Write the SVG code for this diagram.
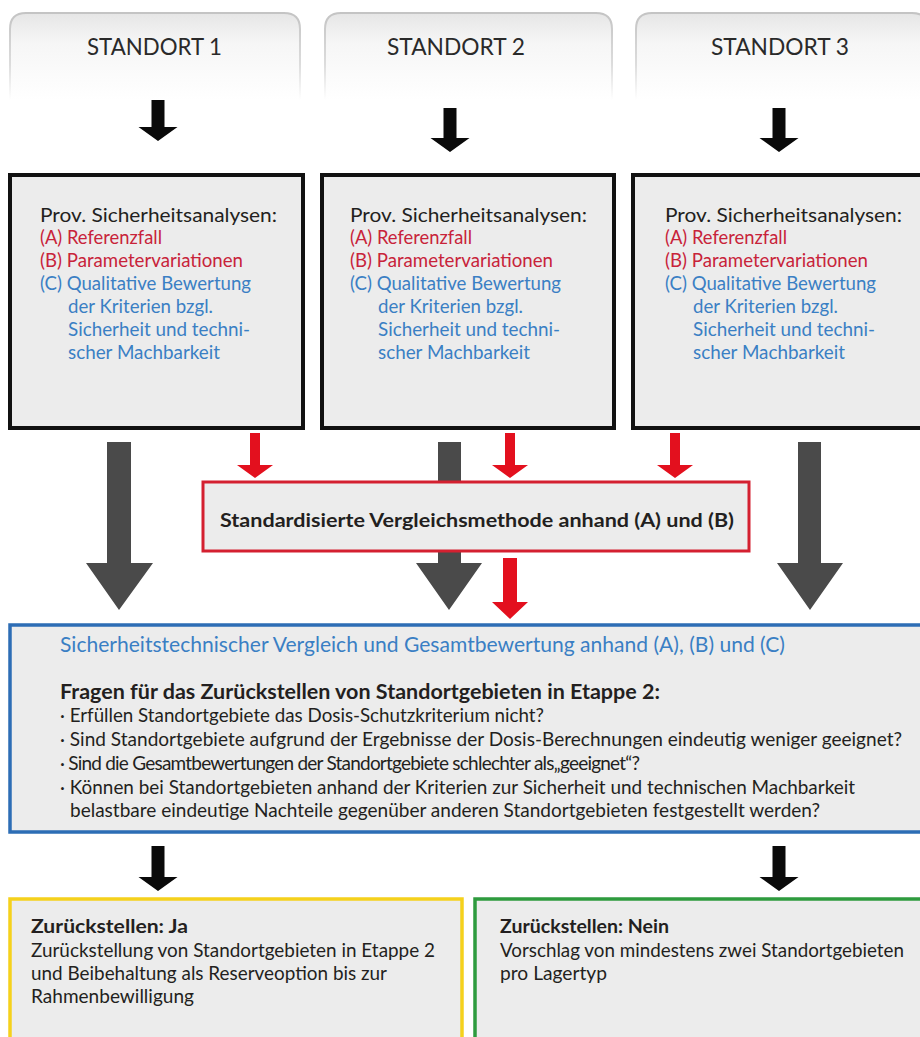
<svg xmlns="http://www.w3.org/2000/svg" width="920" height="1037" viewBox="0 0 920 1037">
<defs>
<linearGradient id="tabFill" x1="0" y1="13" x2="0" y2="100" gradientUnits="userSpaceOnUse">
<stop offset="0" stop-color="#e6e6e6"/>
<stop offset="0.35" stop-color="#f6f6f6"/>
<stop offset="1" stop-color="#ffffff"/>
</linearGradient>
<linearGradient id="tabStroke" x1="0" y1="13" x2="0" y2="100" gradientUnits="userSpaceOnUse">
<stop offset="0" stop-color="#c4c4c4"/>
<stop offset="0.6" stop-color="#dddddd"/>
<stop offset="1" stop-color="#ffffff"/>
</linearGradient>
<style>
.tab{fill:url(#tabFill);stroke:url(#tabStroke);stroke-width:2}
.tabt{font-family:Lato,"Open Sans",sans-serif;font-size:24px;fill:#2a2a2a}
.prov{fill:#ececec;stroke:#111;stroke-width:4}
.t{font-family:Lato,"Open Sans","Liberation Sans",sans-serif;font-size:19.5px;fill:#231f20}
.c{font-family:Lato,"Open Sans",sans-serif;font-size:19px;fill:#231f20}
text.red{fill:#c8233a}
text.blue{fill:#3a7fc4}
.b{font-weight:bold}
.blk{fill:#0a0a0a}
.gry{fill:#4a4a4a}
.rda{fill:#e3101e}
</style>
</defs>
<rect width="920" height="1037" fill="#ffffff"/>

<g id="connectors">
<polygon class="blk" points="151.5,97 164.5,97 164.5,127 177.5,127 158,141 138.5,127 151.5,127"/>
<polygon class="blk" points="443.5,108 456.5,108 456.5,138 469.5,138 450,152 430.5,138 443.5,138"/>
<polygon class="blk" points="772.5,108 785.5,108 785.5,138 798.5,138 779,152 759.5,138 772.5,138"/>
<polygon class="gry" points="107,442 131,442 131,563 153,563 119,610 86,563 107,563"/>
<polygon class="gry" points="438,442 461,442 461,563 482,563 449,610 416,563 438,563"/>
<polygon class="gry" points="798,442 821,442 821,563 843,563 810,610 777,563 798,563"/>
<polygon class="rda" points="250,433 260,433 260,465 273,465 255,478 237,465 250,465"/>
<polygon class="rda" points="505,433 515,433 515,465 528,465 510,478 492,465 505,465"/>
<polygon class="rda" points="670,433 680,433 680,465 693,465 675,478 657,465 670,465"/>
<polygon class="rda" points="503,558 517,558 517,602 528,602 510,619 492,602 503,602"/>
<polygon class="blk" points="151.5,846 164.5,846 164.5,877 177.5,877 158,891 138.5,877 151.5,877"/>
<polygon class="blk" points="772.5,846 785.5,846 785.5,877 798.5,877 779,891 759.5,877 772.5,877"/>
</g>

<g id="tab1">
<path class="tab" d="M10,100 V29 Q10,13 26,13 H284 Q300,13 300,29 V100"/>
<text class="tabt" x="87" y="55" textLength="135" lengthAdjust="spacingAndGlyphs">STANDORT 1</text>
</g>
<g id="tab2">
<path class="tab" d="M325,100 V29 Q325,13 341,13 H596 Q612,13 612,29 V100"/>
<text class="tabt" x="387" y="55" textLength="138" lengthAdjust="spacingAndGlyphs">STANDORT 2</text>
</g>
<g id="tab3">
<path class="tab" d="M636,100 V29 Q636,13 652,13 H912 Q928,13 928,29 V100"/>
<text class="tabt" x="711" y="55" textLength="138" lengthAdjust="spacingAndGlyphs">STANDORT 3</text>
</g>

<g id="box1">
<rect class="prov" x="10" y="175" width="293" height="253"/>
<text class="t" x="40" y="222" textLength="237" lengthAdjust="spacingAndGlyphs">Prov. Sicherheitsanalysen:</text>
<text class="t red" x="40" y="244" textLength="122" lengthAdjust="spacingAndGlyphs">(A) Referenzfall</text>
<text class="t red" x="40" y="267" textLength="203" lengthAdjust="spacingAndGlyphs">(B) Parametervariationen</text>
<text class="t blue" x="40" y="290" textLength="211" lengthAdjust="spacingAndGlyphs">(C) Qualitative Bewertung</text>
<text class="t blue" x="68" y="313" textLength="145" lengthAdjust="spacingAndGlyphs">der Kriterien bzgl.</text>
<text class="t blue" x="68" y="336" textLength="182" lengthAdjust="spacingAndGlyphs">Sicherheit und techni-</text>
<text class="t blue" x="68" y="359" textLength="152" lengthAdjust="spacingAndGlyphs">scher Machbarkeit</text>
</g>
<g id="box2">
<rect class="prov" x="322" y="175" width="292" height="253"/>
<text class="t" x="350" y="222" textLength="237" lengthAdjust="spacingAndGlyphs">Prov. Sicherheitsanalysen:</text>
<text class="t red" x="350" y="244" textLength="122" lengthAdjust="spacingAndGlyphs">(A) Referenzfall</text>
<text class="t red" x="350" y="267" textLength="203" lengthAdjust="spacingAndGlyphs">(B) Parametervariationen</text>
<text class="t blue" x="350" y="290" textLength="211" lengthAdjust="spacingAndGlyphs">(C) Qualitative Bewertung</text>
<text class="t blue" x="378" y="313" textLength="145" lengthAdjust="spacingAndGlyphs">der Kriterien bzgl.</text>
<text class="t blue" x="378" y="336" textLength="182" lengthAdjust="spacingAndGlyphs">Sicherheit und techni-</text>
<text class="t blue" x="378" y="359" textLength="152" lengthAdjust="spacingAndGlyphs">scher Machbarkeit</text>
</g>
<g id="box3">
<rect class="prov" x="633" y="175" width="300" height="253"/>
<text class="t" x="665" y="222" textLength="237" lengthAdjust="spacingAndGlyphs">Prov. Sicherheitsanalysen:</text>
<text class="t red" x="665" y="244" textLength="122" lengthAdjust="spacingAndGlyphs">(A) Referenzfall</text>
<text class="t red" x="665" y="267" textLength="203" lengthAdjust="spacingAndGlyphs">(B) Parametervariationen</text>
<text class="t blue" x="665" y="290" textLength="211" lengthAdjust="spacingAndGlyphs">(C) Qualitative Bewertung</text>
<text class="t blue" x="693" y="313" textLength="145" lengthAdjust="spacingAndGlyphs">der Kriterien bzgl.</text>
<text class="t blue" x="693" y="336" textLength="182" lengthAdjust="spacingAndGlyphs">Sicherheit und techni-</text>
<text class="t blue" x="693" y="359" textLength="152" lengthAdjust="spacingAndGlyphs">scher Machbarkeit</text>
</g>

<g id="vergleich">
<rect x="203" y="482" width="546" height="69" fill="#ececec" stroke="#d42030" stroke-width="3"/>
<text class="t b" x="220" y="527" textLength="514" lengthAdjust="spacingAndGlyphs">Standardisierte Vergleichsmethode anhand (A) und (B)</text>
</g>

<g id="gesamt">
<rect x="10" y="625" width="930" height="207" fill="#ececec" stroke="#2d6db5" stroke-width="3.5"/>
<text class="c blue" x="60" y="652" style="font-size:21px" textLength="725" lengthAdjust="spacingAndGlyphs">Sicherheitstechnischer Vergleich und Gesamtbewertung anhand (A), (B) und (C)</text>
<text class="c b" x="60" y="699" style="font-size:20px" textLength="600" lengthAdjust="spacingAndGlyphs">Fragen für das Zurückstellen von Standortgebieten in Etappe 2:</text>
<text class="c" x="60" y="722" textLength="484" lengthAdjust="spacingAndGlyphs">· Erfüllen Standortgebiete das Dosis-Schutzkriterium nicht?</text>
<text class="c" x="60" y="746" textLength="842" lengthAdjust="spacingAndGlyphs">· Sind Standortgebiete aufgrund der Ergebnisse der Dosis-Berechnungen eindeutig weniger geeignet?</text>
<text class="c" x="60" y="770" textLength="580" lengthAdjust="spacing">· Sind die Gesamtbewertungen der Standortgebiete schlechter als„geeignet“?</text>
<text class="c" x="60" y="794" textLength="795" lengthAdjust="spacingAndGlyphs">· Können bei Standortgebieten anhand der Kriterien zur Sicherheit und technischen Machbarkeit</text>
<text class="c" x="70" y="817" textLength="750" lengthAdjust="spacingAndGlyphs">belastbare eindeutige Nachteile gegenüber anderen Standortgebieten festgestellt werden?</text>
</g>

<g id="ja">
<rect x="10" y="899" width="452" height="150" fill="#ececec" stroke="#f5d11c" stroke-width="3.5"/>
<text class="c b" x="31" y="933" textLength="157" lengthAdjust="spacingAndGlyphs">Zurückstellen: Ja</text>
<text class="c" x="31" y="957" textLength="404" lengthAdjust="spacingAndGlyphs">Zurückstellung von Standortgebieten in Etappe 2</text>
<text class="c" x="31" y="980" textLength="356" lengthAdjust="spacingAndGlyphs">und Beibehaltung als Reserveoption bis zur</text>
<text class="c" x="31" y="1003" textLength="163" lengthAdjust="spacingAndGlyphs">Rahmenbewilligung</text>
</g>
<g id="nein">
<rect x="475" y="899" width="460" height="150" fill="#ececec" stroke="#2e9b3e" stroke-width="3.5"/>
<text class="c b" x="500" y="933" textLength="169" lengthAdjust="spacingAndGlyphs">Zurückstellen: Nein</text>
<text class="c" x="500" y="957" textLength="404" lengthAdjust="spacingAndGlyphs">Vorschlag von mindestens zwei Standortgebieten</text>
<text class="c" x="500" y="980" textLength="107" lengthAdjust="spacingAndGlyphs">pro Lagertyp</text>
</g>
</svg>
